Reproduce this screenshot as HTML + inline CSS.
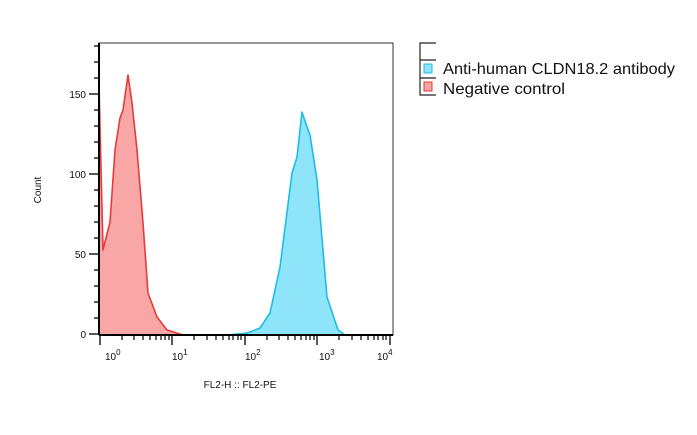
<!DOCTYPE html>
<html><head><style>body{margin:0;background:#fff}</style></head><body>
<svg width="697" height="430" xmlns="http://www.w3.org/2000/svg" font-family="Liberation Sans, sans-serif">
<rect width="697" height="430" fill="#fff"/>
<path d="M99,335 L99,85 L103,250 L110,222 L115,150 L120,118 L123,110 L128,75 L132,103 L137,150 L143,223 L148,293 L157,317 L167,330 L183,335 Z" fill="#f9a6a6" stroke="none"/>
<path d="M99,85 L103,250 L110,222 L115,150 L120,118 L123,110 L128,75 L132,103 L137,150 L143,223 L148,293 L157,317 L167,330 L183,335" fill="none" stroke="#e83a3a" stroke-width="1.6" stroke-linejoin="round"/>
<path d="M228,335 L247,333 L260,328 L270,313 L280,267 L292,173 L297,157 L302,112 L307,127 L310,135 L317,180 L327,297 L338,330 L345,335 Z" fill="#8ee4f8" stroke="none"/>
<path d="M228,335 L247,333 L260,328 L270,313 L280,267 L292,173 L297,157 L302,112 L307,127 L310,135 L317,180 L327,297 L338,330 L345,335" fill="none" stroke="#1fbde6" stroke-width="1.6" stroke-linejoin="round"/>
<rect x="99" y="43" width="294" height="292" fill="none" stroke="#333" stroke-width="1"/>
<line x1="99" y1="43" x2="99" y2="335" stroke="#000" stroke-width="2"/>
<line x1="99" y1="335" x2="393" y2="335" stroke="#000" stroke-width="2"/>
<g stroke="#000" stroke-width="1.3">
<line x1="89" y1="334" x2="99" y2="334"/><line x1="89" y1="254" x2="99" y2="254"/><line x1="89" y1="174" x2="99" y2="174"/><line x1="89" y1="94" x2="99" y2="94"/>
<line x1="94" y1="318" x2="99" y2="318"/><line x1="94" y1="302" x2="99" y2="302"/><line x1="94" y1="286" x2="99" y2="286"/><line x1="94" y1="270" x2="99" y2="270"/>
<line x1="94" y1="238" x2="99" y2="238"/><line x1="94" y1="222" x2="99" y2="222"/><line x1="94" y1="206" x2="99" y2="206"/><line x1="94" y1="190" x2="99" y2="190"/>
<line x1="94" y1="158" x2="99" y2="158"/><line x1="94" y1="142" x2="99" y2="142"/><line x1="94" y1="126" x2="99" y2="126"/><line x1="94" y1="110" x2="99" y2="110"/>
<line x1="94" y1="78" x2="99" y2="78"/><line x1="94" y1="62" x2="99" y2="62"/><line x1="94" y1="46" x2="99" y2="46"/>
<line x1="100" y1="335" x2="100" y2="345"/><line x1="172" y1="335" x2="172" y2="345"/><line x1="245" y1="335" x2="245" y2="345"/><line x1="317" y1="335" x2="317" y2="345"/><line x1="390" y1="335" x2="390" y2="345"/>
</g>
<g stroke="#000" stroke-width="1.2">
<path d="M122,335v5M134,335v5M143,335v5M150,335v5M156,335v5M161,335v5M165,335v5M169,335v5"/>
<path d="M194,335v5M207,335v5M216,335v5M223,335v5M229,335v5M233,335v5M238,335v5M241,335v5"/>
<path d="M267,335v5M279,335v5M288,335v5M295,335v5M301,335v5M306,335v5M310,335v5M314,335v5"/>
<path d="M339,335v5M352,335v5M361,335v5M368,335v5M374,335v5M378,335v5M383,335v5M386,335v5"/>
</g>
<g font-size="10" fill="#111" text-anchor="end">
<text x="86" y="338">0</text><text x="86" y="258">50</text><text x="86" y="178">100</text><text x="86" y="98">150</text>
</g>
<g font-size="10" fill="#111">
<text x="105" y="360">10<tspan font-size="8" dy="-5">0</tspan></text>
<text x="172" y="360">10<tspan font-size="8" dy="-5">1</tspan></text>
<text x="245" y="360">10<tspan font-size="8" dy="-5">2</tspan></text>
<text x="319" y="360">10<tspan font-size="8" dy="-5">3</tspan></text>
<text x="377" y="360">10<tspan font-size="8" dy="-5">4</tspan></text>
</g>
<text x="240" y="388" font-size="10" text-anchor="middle" fill="#111">FL2-H :: FL2-PE</text>
<text transform="translate(41,190) rotate(-90)" font-size="10" text-anchor="middle" fill="#111">Count</text>
<g stroke="#222" stroke-width="1.2" fill="none">
<path d="M436,43H420V95H436M420,60H436M420,78H436"/>
</g>
<rect x="424" y="64" width="8" height="9" fill="#8ee4f8" stroke="#1fbde6"/>
<rect x="424" y="82" width="8" height="9" fill="#f9a6a6" stroke="#e83a3a"/>
<text x="443" y="74" font-size="16" fill="#111" textLength="232" lengthAdjust="spacingAndGlyphs">Anti-human CLDN18.2 antibody</text>
<text x="443" y="94" font-size="16" fill="#111" textLength="122" lengthAdjust="spacingAndGlyphs">Negative control</text>
</svg>
</body></html>
